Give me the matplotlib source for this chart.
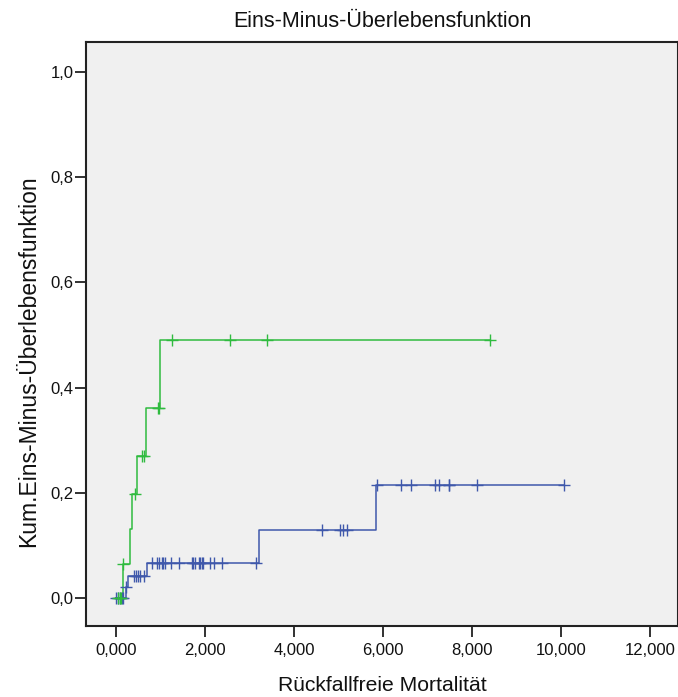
import numpy as np
import matplotlib
matplotlib.use('Agg')
from matplotlib import pyplot as plt

plt.rcParams['font.family'] = ['Liberation Sans', 'DejaVu Sans']

# group 1 (blue): event times and cumulative incidence after each event
blue_times = [0.0, 0.22, 0.28, 0.70, 3.22, 5.84]
blue_cum = [0.0, 0.0216, 0.0425, 0.066, 0.129, 0.2145]
blue_censored = [0.0, 0.05, 0.09, 0.13, 0.17, 0.22,
                 0.42, 0.46, 0.51, 0.55, 0.64,
                 0.81, 0.93, 0.965, 1.04, 1.07, 1.10, 1.23, 1.42, 1.71, 1.73,
                 1.78, 1.88, 1.90, 1.94, 1.97, 2.12, 2.20, 2.39, 3.14,
                 4.62, 5.03, 5.11, 5.19,
                 5.86, 6.41, 6.62, 7.16, 7.26, 7.48, 7.49, 8.10, 10.06]

# group 2 (green)
green_times = [0.0, 0.157, 0.32, 0.36, 0.47, 0.67, 0.995]
green_cum = [0.0, 0.065, 0.131, 0.198, 0.271, 0.362, 0.491]
green_censored = [0.06, 0.09, 0.12, 0.16, 0.435, 0.58, 0.635, 0.94, 0.98,
                  1.27, 2.57, 3.40, 8.39]

xticks = [0, 2, 4, 6, 8, 10, 12]
yticks = [0.0, 0.2, 0.4, 0.6, 0.8, 1.0]


def draw_group(ax, times, cum, censored, color):
    t = np.append(times, max(censored))
    v = np.append(cum, cum[-1])
    ax.step(t, v, where='post', color=color, lw=1.1, zorder=3)
    idx = np.searchsorted(times, censored, side='right') - 1
    lv = np.asarray(cum)[idx]
    ax.plot(censored, lv, ls='none', marker='+', ms=9, mew=1.0,
            color=color, zorder=4)


fig = plt.figure(figsize=(6.78, 6.97), dpi=100)
ax = fig.add_axes([86/678, 1 - 626/697, (678-86)/678, (626-42)/697])
ax.set_facecolor('#f0f0f0')

draw_group(ax, blue_times, blue_cum, blue_censored, '#3f58ab')
draw_group(ax, green_times, green_cum, green_censored, '#2fbb3f')

ax.set_xlim(-0.667, 12.62)
ax.set_ylim(-0.053, 1.057)
ax.set_xticks(xticks)
ax.set_xticklabels([f'{x:,.3f}'.replace('.', ',') for x in xticks])
ax.set_yticks(yticks)
ax.set_yticklabels([f'{y:.1f}'.replace('.', ',') for y in yticks])
ax.tick_params(direction='out', length=8, width=1.3, labelsize=12, pad=4,
               color='#222222', labelcolor='#111111')
ax.tick_params(axis='y', pad=1)

for s in ax.spines.values():
    s.set_linewidth(1.5)
    s.set_color('#222222')

ax.set_title('Eins-Minus-Überlebensfunktion', fontsize=15.5, pad=11, color='#111111')
ax.set_xlabel('Rückfallfreie Mortalität', fontsize=15.2, labelpad=13, color='#111111')
ax.set_ylabel('Kum.Eins-Minus-Überlebensfunktion', fontsize=16.5, color='#111111')
ax.yaxis.set_label_coords(-0.077, 0.454)

fig.savefig('out.png', dpi=100, facecolor='white')
